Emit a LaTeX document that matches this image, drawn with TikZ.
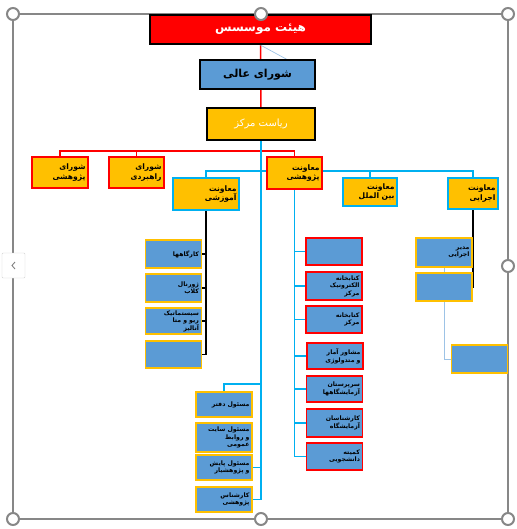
\documentclass[tikz,border=0pt]{standalone}
\usepackage{fontspec}
\usetikzlibrary{backgrounds}
\newfontfamily\arabicfont[Script=Arabic]{DejaVu Sans}
\TeXXeTstate=1
\newcommand{\fa}[1]{\beginR #1\endR}
\definecolor{boxblue}{HTML}{5B9BD5}
\definecolor{boxgold}{HTML}{FFC000}
\definecolor{linecyan}{HTML}{00B0F0}
\definecolor{linepale}{HTML}{9DC3E6}
\definecolor{framegray}{HTML}{878787}

\begin{document}
\begin{tikzpicture}[x=1pt, y=-1pt,
  box/.style={draw, inner xsep=2.5pt, inner ysep=0pt, align=right, font=\arabicfont\bfseries\fontsize{6.2}{7.6}\selectfont},
  lbox/.style={box, fill=boxblue, line width=1.8pt, text width=51pt, minimum height=#1},
  head/.style={box, fill=boxgold, line width=2.2pt, font=\arabicfont\bfseries\fontsize{7.6}{9.6}\selectfont},
  wire/.style={line width=1.6pt},
  handle/.style={circle, draw=framegray, fill=white, line width=2pt, minimum size=12pt, inner sep=0pt}]

\useasboundingbox (0,0) rectangle (516,529);

% selection frame
\draw[framegray, line width=1.3pt] (13,14) rectangle (508,519);
\node[draw=gray!35, fill=white, minimum width=23pt, minimum height=25pt, rounded corners=1pt] (nav) at (13.5,265.5) {};
\draw[gray, line width=0.9pt] (nav.center) ++(1.5,-3.5) -- ++(-3,3.5) -- ++(3,3.5);

% top
\node[box, fill=red, line width=2.2pt, align=center, minimum width=221pt, minimum height=29pt,
  text=white, font=\arabicfont\bfseries\fontsize{12}{14}\selectfont] (hm) at (260.5,29.5) {\fa{هیئت موسسس}};
\node[box, fill=boxblue, line width=2.2pt, align=center, minimum width=115pt, minimum height=29pt,
  font=\arabicfont\bfseries\fontsize{11}{13}\selectfont] (sa) at (257.5,74.5) {\fa{شورای عالی}};
\node[box, fill=boxgold, line width=2.2pt, align=center, minimum width=108pt, minimum height=32pt,
  text=white, font=\arabicfont\fontsize{10}{12}\selectfont] (rm) at (261,124) {\fa{ریاست مرکز}};
\coordinate (dg) at (288,60);

% second row
\node[head, draw=red, text width=51pt, minimum height=31pt] (sp) at (60,172.5) {\fa{شورای}\\\fa{پژوهشی}};
\node[head, draw=red, text width=50pt, minimum height=31pt] (sr) at (136.5,172.5) {\fa{شورای}\\\fa{راهبردی}};
\node[head, draw=red, text width=50pt, minimum height=32pt] (mp) at (294.5,173) {\fa{معاونت}\\\fa{پژوهشی}};
\node[head, draw=linecyan, text width=61pt, minimum height=32pt] (ma) at (206,194) {\fa{معاونت}\\\fa{آموزشی}};
\node[head, draw=linecyan, text width=49pt, minimum height=28pt] (mb) at (370,192) {\fa{معاونت}\\\fa{بین الملل}};
\node[head, draw=linecyan, text width=45pt, minimum height=31pt] (mj) at (473,193.5) {\fa{معاونت}\\\fa{اجرایی}};

% under amoozeshi
\node[lbox=28pt, draw=boxgold] (k1) at (173.5,254) {\fa{کارگاهها}};
\node[lbox=28pt, draw=boxgold] (k2) at (173.5,288) {\fa{ژورنال}\\\fa{کلاب}};
\node[lbox=26pt, draw=boxgold] (k3) at (173.5,321) {\fa{سیستماتیک}\\\fa{ریو و متا}\\\fa{آنالیز}};
\node[lbox=27pt, draw=boxgold] (k4) at (173.5,354.5) {};

% under pazhoheshi
\node[lbox=27pt, draw=red] (p1) at (334,251.5) {};
\node[lbox=28pt, draw=red] (p2) at (334,286) {\fa{کتابخانه}\\\fa{الکترونیک}\\\fa{مرکز}};
\node[lbox=27pt, draw=red] (p3) at (334,319.5) {\fa{کتابخانه}\\\fa{مرکز}};
\node[lbox=26pt, draw=red] (p4) at (335,356) {\fa{مشاور آمار}\\\fa{و متدولوژی}};
\node[lbox=26pt, draw=red] (p5) at (334.5,389) {\fa{سرپرستان}\\\fa{آزمایشگاهها}};
\node[lbox=28pt, draw=red] (p6) at (334.5,423) {\fa{کارشناسان}\\\fa{آزمایشگاه}};
\node[lbox=27pt, draw=red] (p7) at (334.5,456.5) {\fa{کمیته}\\\fa{دانشجویی}};

% under ejraei
\node[lbox=29pt, draw=boxgold] (e1) at (444,252.5) {\fa{مدیر}\\\fa{اجرایی}};
\node[lbox=28pt, draw=boxgold] (e2) at (444,287) {};
\node[lbox=28pt, draw=boxgold] (e3) at (479.5,359) {};

% under riasat
\node[lbox=25pt, draw=boxgold] (df) at (224,404.5) {\fa{مسئول دفتر}};
\node[lbox=29pt, draw=boxgold] (sy) at (224,437.5) {\fa{مسئول سایت}\\\fa{و روابط}\\\fa{عمومی}};
\node[lbox=25pt, draw=boxgold] (pa) at (224,467.5) {\fa{مسئول پایش}\\\fa{و پژوهشیار}};
\node[lbox=25pt, draw=boxgold] (kp) at (224,499.5) {\fa{کارشناس}\\\fa{پژوهشی}};
\coordinate (j1) at (261,384);

\begin{scope}[on background layer]
\draw[wire, red] (hm) -- (rm);
\draw[linepale, line width=0.7pt] (hm.south) -- (dg);
\draw[wire, red] (sp.north) -- ++(0,-5) -| (mp.north);
\draw[wire, red] (sr.north) -- ++(0,-5);
\draw[wire, linecyan] (ma.north) -- ++(0,-6) -| (mj.north);
\draw[wire, linecyan] (mb.north) -- ++(0,-6);
\draw[wire, linecyan] (rm.south) |- (kp.east);
\draw[wire, linecyan] (pa.east) -- (pa.east -| rm);
\draw[wire, linecyan] (df.north) |- (j1);
\draw[wire, linecyan] (mp.south) |- (p7.west);
\foreach \k in {1,...,6}
  \draw[wire, linecyan] (p\k.west) -- (p\k.west -| mp);
\draw[wire] (ma.south) |- (k4.east);
\foreach \k in {1,2,3}
  \draw[wire] (k\k.east) -- (k\k.east -| ma);
\draw[wire] (mj.south) |- (e2.east);
\draw[wire] (e1.east) -- (e1.east -| mj);
\draw[linepale, line width=1pt] (e1.south) |- (e3.west);
\end{scope}

% handles
\foreach \n/\x/\y in {1/13/14, 2/261/14, 3/508/14, 4/508/266, 5/13/519, 6/261/519, 7/508/519}
  \node[handle] (h\n) at (\x,\y) {};
\end{tikzpicture}
\end{document}
